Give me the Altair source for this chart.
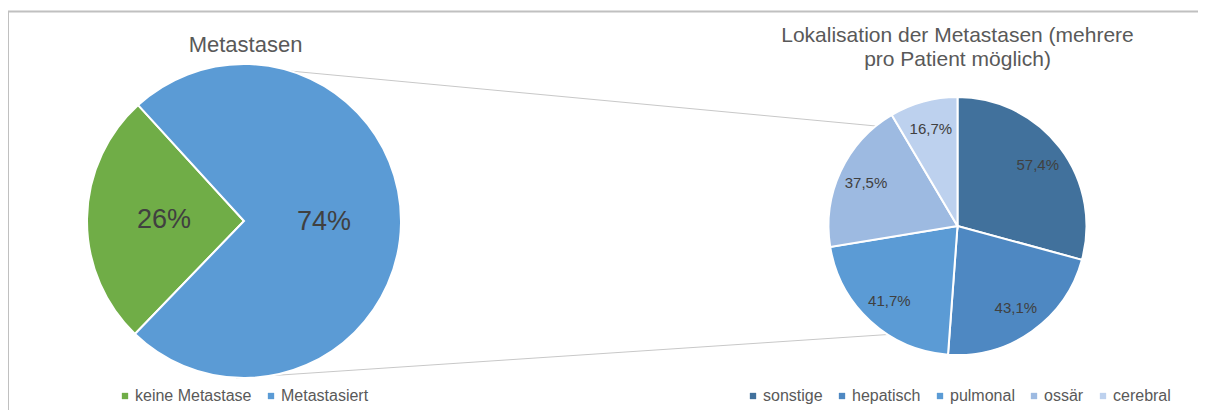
import math
import altair as alt
import pandas as pd

# ---------------- data ----------------
left_cats = ["keine Metastase", "Metastasiert"]
left_vals = [26, 74]
left_labels = ["26%", "74%"]
left_colors = ["#70AD47", "#5B9BD5"]

right_cats = ["sonstige", "hepatisch", "pulmonal", "ossär", "cerebral"]
right_vals = [57.4, 43.1, 41.7, 37.5, 16.7]
right_labels = ["57,4%", "43,1%", "41,7%", "37,5%", "16,7%"]
right_colors = ["#41719C", "#4E88C2", "#5B9BD5", "#9DBAE1", "#BDD1EE"]

left_title = "Metastasen"
right_title = ["Lokalisation der Metastasen (mehrere", "pro Patient möglich)"]

# ---------------- layout ----------------
W, H = 1190, 402
FONT = "Liberation Sans"
TXT = "#404040"
LEG = "#595959"
GRID = "#C0C0C0"

lcx, lcy, lr = 236, 213, 157
rcx, rcy, rr = 949.5, 218, 129
start = math.radians(224)

left_df = pd.DataFrame({"cat": left_cats, "val": left_vals, "lab": left_labels,
                        "idx": list(range(len(left_cats)))})
right_df = pd.DataFrame({"cat": right_cats, "val": right_vals, "lab": right_labels,
                         "idx": list(range(len(right_cats)))})
one = alt.Data(values=[{}])


def legend(x, y):
    return alt.Legend(title=None, orient="none", legendX=x, legendY=y,
                      direction="horizontal", columns=8, symbolType="square",
                      symbolSize=40, symbolStrokeWidth=0, labelFont=FONT,
                      labelFontSize=16, labelColor=LEG, columnPadding=11,
                      labelOffset=2, padding=0)


# left pie
theta_l = alt.Theta("val:Q", stack=True,
                    scale=alt.Scale(range=[start, start + 2 * math.pi]))
lbase = alt.Chart(left_df).encode(theta=theta_l, order=alt.Order("idx:Q"),
                                  x=alt.value(lcx), y=alt.value(lcy))
l_arc = lbase.mark_arc(outerRadius=lr, stroke="white", strokeWidth=2).encode(
    color=alt.Color("cat:N", scale=alt.Scale(domain=left_cats, range=left_colors),
                    legend=legend(109, 380)))
l_txt = lbase.mark_text(radius=80, font=FONT, fontSize=27, color=TXT).encode(
    text="lab:N", detail="cat:N")
left = alt.layer(l_arc, l_txt)

# right pie
theta_r = alt.Theta("val:Q", stack=True)
rbase = alt.Chart(right_df).encode(theta=theta_r, order=alt.Order("idx:Q"),
                                   x=alt.value(rcx), y=alt.value(rcy))
r_arc = rbase.mark_arc(outerRadius=rr, stroke="white", strokeWidth=2).encode(
    color=alt.Color("cat:N", scale=alt.Scale(domain=right_cats, range=right_colors),
                    legend=legend(737, 380)))
r_txt = rbase.mark_text(radius=101, font=FONT, fontSize=15, color=TXT).encode(
    text="lab:N", detail="cat:N")
right = alt.layer(r_arc, r_txt)

# frame and connector lines
frame_top = alt.Chart(one).mark_rule(color=GRID, strokeWidth=2).encode(
    x=alt.value(0), x2=alt.value(W), y=alt.value(3.5), y2=alt.value(3.5))
frame_left = alt.Chart(one).mark_rule(color=GRID, strokeWidth=2).encode(
    x=alt.value(0), x2=alt.value(0), y=alt.value(3.5), y2=alt.value(H + 8))
con_top = alt.Chart(one).mark_rule(color="#C8C8C8", strokeWidth=1).encode(
    x=alt.value(282), y=alt.value(63), x2=alt.value(868), y2=alt.value(118))
con_bot = alt.Chart(one).mark_rule(color="#C8C8C8", strokeWidth=1).encode(
    x=alt.value(228), y=alt.value(370), x2=alt.value(880), y2=alt.value(326.5))

# titles
t_left = alt.Chart(one).mark_text(font=FONT, fontSize=22, color="#595959",
                                  align="center", baseline="alphabetic").encode(
    x=alt.value(237.5), y=alt.value(44), text=alt.value(left_title))
t_right = alt.Chart(one).mark_text(font=FONT, fontSize=21, color="#595959",
                                   align="center", baseline="alphabetic",
                                   lineHeight=24).encode(
    x=alt.value(949.5), y=alt.value(34), text=alt.value(right_title))

chart = alt.layer(frame_top, frame_left, con_top, con_bot, left, right,
                  t_left, t_right).resolve_scale(
    theta="independent", color="independent"
).properties(width=W, height=H, padding=0, autosize=alt.AutoSizeParams(type="none")
).configure_view(stroke=None)

chart.save("out.html", embed_options={"renderer": "svg", "actions": False})
